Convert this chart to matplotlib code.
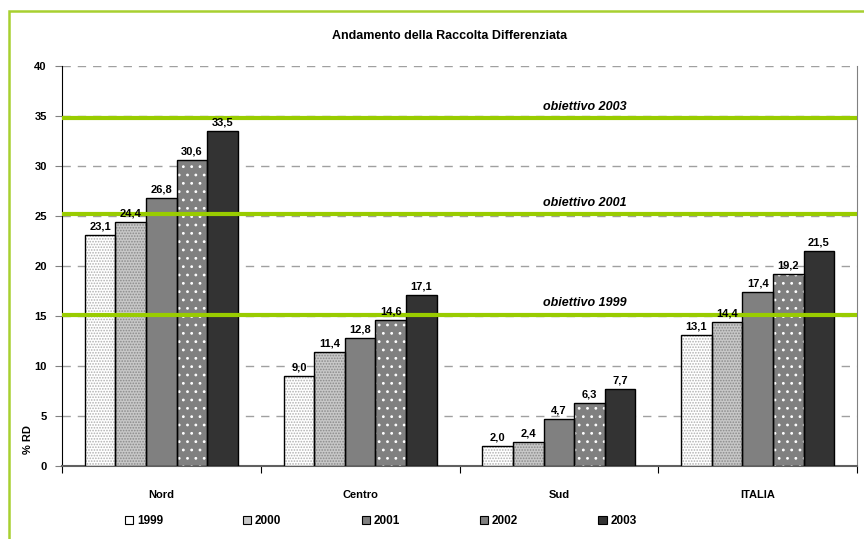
import numpy as np
import matplotlib.pyplot as plt
from matplotlib.patches import Patch, Rectangle

plt.rcParams['font.family'] = ['Liberation Sans', 'DejaVu Sans']
plt.rcParams['hatch.linewidth'] = 0.8

# Data: % raccolta differenziata per area e anno
areas = ['Nord', 'Centro', 'Sud', 'ITALIA']
years = ['1999', '2000', '2001', '2002', '2003']
rd_1999 = [23.1, 9.0, 2.0, 13.1]
rd_2000 = [24.4, 11.4, 2.4, 14.4]
rd_2001 = [26.8, 12.8, 4.7, 17.4]
rd_2002 = [30.6, 14.6, 6.3, 19.2]
rd_2003 = [33.5, 17.1, 7.7, 21.5]
series = [rd_1999, rd_2000, rd_2001, rd_2002, rd_2003]

# Obiettivi di legge (as drawn)
target_labels = ['obiettivo 1999', 'obiettivo 2001', 'obiettivo 2003']
target_values = [15.1, 25.2, 34.8]

# fill colour, hatch pattern, hatch colour for each year
styles = [
    ('white', '......', '#b0b0b0'),
    ('#c8c8c8', '......', '#8a8a8a'),
    ('#808080', None, None),
    ('#808080', '..', 'white'),
    ('#333333', None, None),
]
green = '#99cc00'


def draw_bars(ax, x, heights, width, face, hatch, hcolor):
    ax.bar(x, heights, width, color=face, linewidth=0, zorder=3)
    if hatch:
        ax.bar(x, heights, width, color='none', edgecolor=hcolor,
               hatch=hatch, linewidth=0, zorder=3)
    ax.bar(x, heights, width, color='none', edgecolor='black',
           linewidth=1.0, zorder=4)


fig = plt.figure(figsize=(8.64, 5.39), dpi=100)
ax = fig.add_axes([62 / 864, 1 - 466 / 539, (857 - 62) / 864, 400 / 539])

x = np.arange(len(areas))
width = 0.154
for i, vals in enumerate(series):
    face, hatch, hcolor = styles[i]
    pos = x + (i - 2) * width
    draw_bars(ax, pos, vals, width, face, hatch, hcolor)
    for px, v in zip(pos, vals):
        ax.text(px, v + 0.35, f'{v:.1f}'.replace('.', ','), ha='center',
                va='bottom', fontsize=8, fontweight='bold', zorder=6)

for lbl, val in zip(target_labels, target_values):
    ax.axhline(val, color=green, linewidth=3, zorder=5)
    ax.text(2.13, val + 0.55, lbl, ha='center', va='bottom', fontsize=9,
            fontweight='bold', fontstyle='italic', zorder=6)

ax.set_xlim(-0.5, 3.5)
ax.set_ylim(0, 40)
ax.set_yticks(np.arange(0, 41, 5))
ax.set_yticklabels([str(v) for v in range(0, 41, 5)], fontsize=8,
                   fontweight='bold')
ax.yaxis.grid(True, color='#a0a0a0', linestyle=(0, (6, 5)), linewidth=1,
              zorder=1)

ax.set_xticks(np.arange(-0.5, 4, 1))
ax.set_xticklabels([])
ax.set_xticks(x, minor=True)
ax.set_xticklabels(areas, minor=True, fontsize=8, fontweight='bold')
ax.tick_params(axis='x', which='minor', length=0, pad=17)
ax.tick_params(axis='x', which='major', length=5, color='black',
               direction='out')
ax.tick_params(axis='y', length=5, color='#808080', direction='out', pad=6)

ax.spines['left'].set_color('black')
ax.spines['bottom'].set_color('#606060')
ax.spines['bottom'].set_linewidth(1.5)
ax.spines['top'].set_visible(False)
ax.spines['right'].set_color('#808080')

fig.text(450 / 864, 1 - 36 / 539, 'Andamento della Raccolta Differenziata',
         ha='center', va='center', fontsize=9, fontweight='bold')
fig.text(28 / 864, 1 - 440 / 539, '% RD', rotation=90, ha='center',
         va='center', fontsize=8, fontweight='bold')

handles = []
for face, hatch, hcolor in styles:
    handles.append(Patch(facecolor=face, edgecolor='black', linewidth=0.8))
fig.legend(handles, years, loc='center left',
           bbox_to_anchor=(125 / 864, 1 - 521 / 539), ncol=5, frameon=False,
           prop={'size': 8.5, 'weight': 'bold'}, handlelength=0.7,
           handleheight=0.7, handletextpad=0.3, columnspacing=6.8,
           borderpad=0, borderaxespad=0)

# green frame around the chart area
fig.add_artist(Rectangle((8.5 / 864, -0.01), 1, 1 - 10.5 / 539 + 0.01,
                         transform=fig.transFigure, fill=False,
                         edgecolor='#a8d030', linewidth=1.8))

fig.savefig('out.png', dpi=100)
